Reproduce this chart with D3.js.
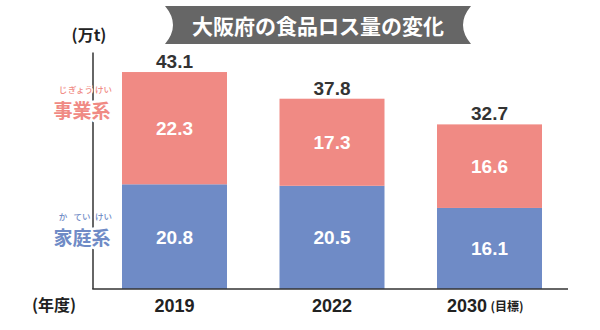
<!DOCTYPE html>
<html><head><meta charset="utf-8">
<script src="https://cdn.jsdelivr.net/npm/d3@7"></script>
<style>body{margin:0;background:#fff}svg{display:block}</style>
</head><body>
<script>
const years = ["2019", "2022", "2030"];
const household = [20.8, 20.5, 16.1];   // 家庭系
const business = [22.3, 17.3, 16.6];    // 事業系
const totals = [43.1, 37.8, 32.7];
const yearSuffix = ["", "", "(目標)"];

const W = 600, H = 330;
const svg = d3.select("body").append("svg").attr("width", W).attr("height", H);
const jp = "'Noto Sans CJK JP','Noto Sans',sans-serif";
const num = "'Liberation Sans',Arial,sans-serif";
const pink = "#f08a84", blue = "#6f8bc6";

const x = d3.scaleBand().domain(years).range([95.75, 568.25]).paddingInner(1/3).paddingOuter(1/6);
const y = d3.scaleLinear().domain([0, 47]).range([289, 52.4]);

// title banner
const bx0 = 165, bx1 = 471, by0 = 6, by1 = 44, notch = 8;
svg.append("path")
  .attr("d", `M${bx0},${by0} L${bx1},${by0} Q${bx1-2*notch},${(by0+by1)/2} ${bx1},${by1} L${bx0},${by1} Q${bx0+2*notch},${(by0+by1)/2} ${bx0},${by0} Z`)
  .attr("fill", "#666");
svg.append("text").attr("x", 318).attr("y", 34).attr("text-anchor", "middle")
  .attr("fill", "#fff").attr("font-family", jp).attr("font-weight", 700).attr("font-size", 21)
  .text("大阪府の食品ロス量の変化");

// bars
const g = svg.append("g");
g.selectAll("rect.h").data(years).join("rect").attr("class", "h")
  .attr("x", d => x(d)).attr("width", x.bandwidth())
  .attr("y", (d, i) => y(household[i])).attr("height", (d, i) => y(0) - y(household[i]))
  .attr("fill", blue);
g.selectAll("rect.b").data(years).join("rect").attr("class", "b")
  .attr("x", d => x(d)).attr("width", x.bandwidth())
  .attr("y", (d, i) => y(household[i] + business[i])).attr("height", (d, i) => y(household[i]) - y(household[i] + business[i]))
  .attr("fill", pink);

// inside labels
g.selectAll("text.hl").data(years).join("text")
  .attr("x", d => x(d) + x.bandwidth()/2).attr("y", (d, i) => y(household[i]/2) + 7)
  .attr("text-anchor", "middle").attr("fill", "#fff").attr("font-family", num).attr("font-weight", 700).attr("font-size", 19)
  .text((d, i) => household[i].toFixed(1));
g.selectAll("text.bl").data(years).join("text")
  .attr("x", d => x(d) + x.bandwidth()/2).attr("y", (d, i) => y(household[i] + business[i]/2) + 7)
  .attr("text-anchor", "middle").attr("fill", "#fff").attr("font-family", num).attr("font-weight", 700).attr("font-size", 19)
  .text((d, i) => business[i].toFixed(1));
g.selectAll("text.tl").data(years).join("text")
  .attr("x", d => x(d) + x.bandwidth()/2).attr("y", (d, i) => y(totals[i]) - 4)
  .attr("text-anchor", "middle").attr("fill", "#333").attr("font-family", num).attr("font-weight", 700).attr("font-size", 19)
  .text((d, i) => totals[i].toFixed(1));

// axes lines
svg.append("line").attr("x1", 93).attr("x2", 93).attr("y1", y.range()[1]).attr("y2", y(0)).attr("stroke", "#333").attr("stroke-width", 1.5);
svg.append("line").attr("x1", 92.25).attr("x2", 568).attr("y1", y(0)).attr("y2", y(0)).attr("stroke", "#333").attr("stroke-width", 1.5);

// x labels
svg.selectAll("text.xl").data(years).join("text")
  .attr("x", (d, i) => x(d) + x.bandwidth()/2 + (yearSuffix[i] ? -2.5 : 0)).attr("y", 312)
  .attr("text-anchor", (d, i) => yearSuffix[i] ? "end" : "middle")
  .attr("fill", "#222").attr("font-family", num).attr("font-weight", 700).attr("font-size", 18)
  .text(d => d);
svg.selectAll("text.xs").data(years.filter((d, i) => yearSuffix[i])).join("text")
  .attr("x", d => x(d) + x.bandwidth()/2 + 1).attr("y", 311)
  .attr("fill", "#222").attr("font-family", jp).attr("font-weight", 700).attr("font-size", 12)
  .text(d => yearSuffix[years.indexOf(d)]);

// unit labels
svg.append("text").attr("x", 89).attr("y", 41).attr("text-anchor", "middle").attr("fill", "#222")
  .attr("font-family", jp).attr("font-weight", 700).attr("font-size", 16).text("(万t)");
svg.append("text").attr("x", 54).attr("y", 311).attr("text-anchor", "middle").attr("fill", "#222")
  .attr("font-family", jp).attr("font-weight", 700).attr("font-size", 16).text("(年度)");

// series labels with ruby (white halo hides the axis behind them)
function seriesLabel(txt, rubies, color, cy) {
  svg.append("text").attr("x", 82).attr("y", cy + 1).attr("text-anchor", "middle").attr("fill", color)
    .attr("stroke", "#fff").attr("stroke-width", 5).attr("paint-order", "stroke").attr("stroke-linejoin", "round")
    .attr("font-family", jp).attr("font-weight", 700).attr("font-size", 19).text(txt);
  rubies.forEach(([r, dx]) => {
    svg.append("text").attr("x", 82 + dx).attr("y", cy - 24).attr("text-anchor", "middle").attr("fill", color)
      .attr("stroke", "#fff").attr("stroke-width", 3).attr("paint-order", "stroke").attr("stroke-linejoin", "round")
      .attr("font-family", jp).attr("font-weight", 500).attr("font-size", 8.5).text(r);
  });
}
seriesLabel("事業系", [["じ", -19], ["ぎょう", -1.5], ["けい", 21.5]], pink, 117);
seriesLabel("家庭系", [["か", -19], ["てい", 0], ["けい", 21.5]], blue, 244);
</script>
</body></html>
